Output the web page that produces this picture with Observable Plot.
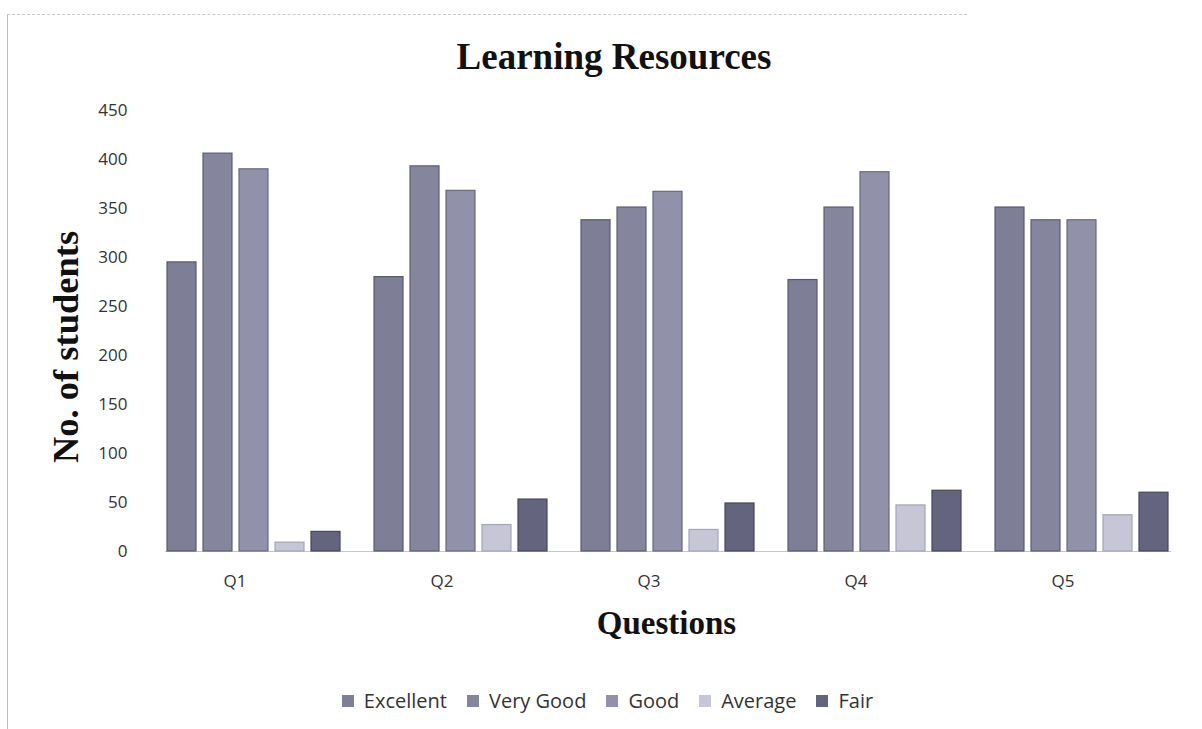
<!DOCTYPE html>
<html>
<head>
<meta charset="utf-8">
<script src="https://cdn.jsdelivr.net/npm/d3@7"></script>
<script src="https://cdn.jsdelivr.net/npm/@observablehq/plot@0.6"></script>
<style>
  body { margin: 0; background: #fff; }
  #wrap { position: relative; width: 1202px; height: 729px; overflow: hidden; background: #fff; }
  #frameL { position: absolute; left: 7px; top: 14px; width: 0; height: 715px; border-left: 1px solid #bdbdbd; }
  #frameT { position: absolute; left: 7px; top: 14px; width: 960px; height: 0; border-top: 1px dashed #c8c8c8; }
  #title { position: absolute; left: 0; width: 1228px; top: 35px; text-align: center;
           font-family: "Liberation Serif", serif; font-weight: bold; font-size: 37px; color: #111; }
  #ylab { position: absolute; left: 65px; top: 347px; transform: translate(-50%, -50%) rotate(-90deg);
          white-space: nowrap; font-family: "Liberation Serif", serif; font-weight: bold; font-size: 36.5px; color: #111; }
  #xlab { position: absolute; left: 0; width: 1333px; top: 605px; text-align: center;
          font-family: "Liberation Serif", serif; font-weight: bold; font-size: 33px; color: #111; }
  #chart { position: absolute; left: 0; top: 0; }
  #legend { position: absolute; left: 0; top: 684px; width: 1235px; display: flex; justify-content: center; }
</style>
</head>
<body>
<div id="wrap">
  <div id="frameL"></div>
  <div id="frameT"></div>
  <div id="chart"></div>
  <div id="title">Learning Resources</div>
  <div id="ylab">No. of students</div>
  <div id="xlab">Questions</div>
  <div id="legend"></div>
</div>
<script>
const questions = ["Q1", "Q2", "Q3", "Q4", "Q5"];
const ratings = ["Excellent", "Very Good", "Good", "Average", "Fair"];
const excellent = [295, 280, 338, 277, 351];
const veryGood  = [406, 393, 351, 351, 338];
const good      = [390, 368, 367, 387, 338];
const average   = [9, 27, 22, 47, 37];
const fair      = [20, 53, 49, 62, 60];
const yTicks = [0, 50, 100, 150, 200, 250, 300, 350, 400, 450];
const fills   = ["#7e7e97", "#85869e", "#9192a9", "#c6c6d6", "#64647e"];
const strokes = ["#58586f", "#5d5e75", "#68697f", "#a5a5b8", "#45455c"];

const series = [excellent, veryGood, good, average, fair];
const data = [];
questions.forEach((q, i) => {
  ratings.forEach((r, j) => data.push({question: q, rating: r, value: series[j][i]}));
});

const plot = Plot.plot({
  width: 1202,
  height: 600,
  marginTop: 110,
  marginBottom: 49,
  marginLeft: 150,
  marginRight: 17,
  style: {fontFamily: "'Open Sans', sans-serif", fontSize: "17px", color: "#333", background: "transparent"},
  fx: {domain: questions, paddingInner: 0.145, paddingOuter: 0.0725, label: null, axis: null},
  x: {domain: ratings, paddingInner: 0.19, paddingOuter: 0, axis: null},
  y: {domain: [0, 450], ticks: yTicks, label: null, tickSize: 0, tickPadding: 38},
  color: {domain: ratings, range: fills},
  marks: [
    Plot.frame({anchor: "bottom", facet: "super", stroke: "#c8c8c8"}),
    Plot.axisFx({anchor: "bottom", tickSize: 0, tickPadding: 23, label: null,
                 fill: "#333", fontSize: 17}),
    Plot.barY(data, {fx: "question", x: "rating", y: "value", fill: "rating",
      stroke: d => strokes[ratings.indexOf(d.rating)], strokeWidth: 1.2})
  ]
});
document.getElementById("chart").appendChild(plot);
// shift question labels slightly left, like the reference
plot.querySelectorAll('g[aria-label="fx-axis tick label"] text').forEach(t => t.setAttribute("dx", "-19"));

const leg = Plot.legend({
  color: {domain: ratings, range: fills},
  legend: "swatches",
  swatchSize: 12,
  style: {fontFamily: "'Open Sans', sans-serif", fontSize: "20px", color: "#333"}
});
document.getElementById("legend").appendChild(leg);
</script>
</body>
</html>
